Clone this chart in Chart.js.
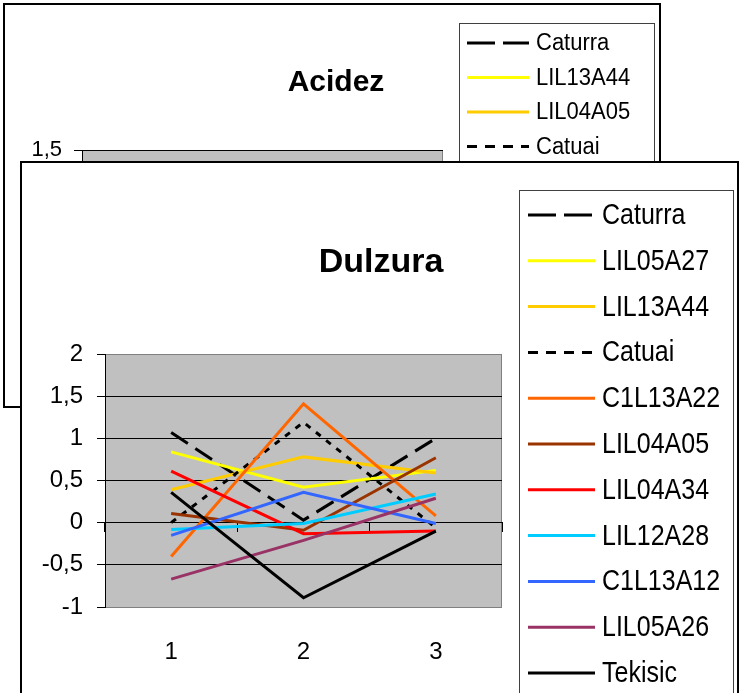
<!DOCTYPE html>
<html>
<head>
<meta charset="utf-8">
<script src="https://cdn.jsdelivr.net/npm/chart.js@4.4.1/dist/chart.umd.min.js"></script>
<style>
  body { margin: 0; background: #fff; }
  #page { position: relative; width: 746px; height: 693px; overflow: hidden; }
  .box { position: absolute; border: 2px solid #000; background: #fff; }
  #backBox { left: 3px; top: 3px; width: 654px; height: 401px; }
  #frontBox { left: 20px; top: 161px; width: 715px; height: 560px; }
  canvas { display: block; }
</style>
</head>
<body>
<div id="page">
  <div class="box" id="backBox"><canvas id="acidez" width="654" height="401"></canvas></div>
  <div class="box" id="frontBox"><canvas id="dulzura" width="715" height="530"></canvas></div>
</div>
<script>
// categories (x axis) shared by both charts
const categories = ['1', '2', '3'];

// Dulzura (front chart)
const dulzuraTicks = [-1, -0.5, 0, 0.5, 1, 1.5, 2];
const dulzuraNames = ['Caturra', 'LIL05A27', 'LIL13A44', 'Catuai', 'C1L13A22', 'LIL04A05',
  'LIL04A34', 'LIL12A28', 'C1L13A12', 'LIL05A26', 'Tekisic'];
const caturra  = [1.07, 0.03, 1.00];
const lil05a27 = [0.84, 0.42, 0.62];
const lil13a44 = [0.39, 0.78, 0.59];
const catuai   = [0.00, 1.19, -0.06];
const c1l13a22 = [-0.40, 1.41, 0.08];
const lil04a05 = [0.11, -0.09, 0.77];
const lil04a34 = [0.61, -0.13, -0.10];
const lil12a28 = [-0.08, -0.01, 0.34];
const c1l13a12 = [-0.15, 0.36, -0.01];
const lil05a26 = [-0.67, -0.21, 0.29];
const tekisic  = [0.36, -0.89, -0.10];
const dulzuraValues = [caturra, lil05a27, lil13a44, catuai, c1l13a22, lil04a05,
  lil04a34, lil12a28, c1l13a12, lil05a26, tekisic];

// Acidez (back chart) - only the top of it shows, its lines are hidden behind Dulzura
const acidezTicks = [-1.5, -1, -0.5, 0, 0.5, 1, 1.5];
const acidezNames = ['Caturra', 'LIL13A44', 'LIL04A05', 'Catuai'];
const acidezValues = [[], [], [], []];

const lineStyles = {
  'Caturra':  { color: '#000000', dash: [20, 9], legendDash: [28, 8] },
  'Catuai':   { color: '#000000', dash: [6, 7], legendDash: [10, 8] },
  'LIL05A27': { color: '#FFFF00' },
  'LIL13A44': { color: '#FFCC00' },
  'C1L13A22': { color: '#FF6600' },
  'LIL04A05': { color: '#993300' },
  'LIL04A34': { color: '#FF0000' },
  'LIL12A28': { color: '#00CCFF' },
  'C1L13A12': { color: '#3366FF' },
  'LIL05A26': { color: '#993366' },
  'Tekisic':  { color: '#000000' }
};
// back chart uses its own colour order
const acidezColors = { 'LIL13A44': '#FFFF00', 'LIL04A05': '#FFCC00' };

const SANS = '"Liberation Sans", Arial, sans-serif';

const commaLabel = v => String(v).replace('.', ',');

const plotBg = {
  id: 'plotBg',
  beforeDraw(chart) {
    const { ctx, chartArea: a } = chart;
    ctx.save();
    ctx.fillStyle = '#C0C0C0';
    ctx.fillRect(a.left, a.top, a.right - a.left, a.bottom - a.top);
    ctx.strokeStyle = '#808080';
    ctx.lineWidth = 1;
    ctx.strokeRect(a.left + 0.5, a.top + 0.5, a.right - a.left - 1, a.bottom - a.top);
    ctx.restore();
  }
};

const boxTitle = {
  id: 'boxTitle',
  afterDraw(chart, args, opts) {
    const { ctx } = chart;
    ctx.save();
    ctx.font = opts.font;
    ctx.fillStyle = '#000';
    ctx.textAlign = 'center';
    ctx.textBaseline = 'middle';
    ctx.fillText(opts.text, opts.x, opts.y);
    ctx.restore();
  }
};

// Excel-like legend: framed box, line sample, label (optionally stretched vertically)
const boxLegend = {
  id: 'boxLegend',
  afterDraw(chart, args, opts) {
    const { ctx } = chart;
    ctx.save();
    ctx.fillStyle = '#fff';
    ctx.fillRect(opts.left, opts.top, opts.width, opts.height);
    ctx.strokeStyle = '#404040';
    ctx.lineWidth = 1;
    ctx.strokeRect(opts.left + 0.5, opts.top + 0.5, opts.width, opts.height);
    chart.data.datasets.forEach((ds, i) => {
      const y = opts.firstRow + i * opts.rowGap;
      ctx.beginPath();
      ctx.setLineDash(ds.legendDash || []);
      ctx.lineWidth = ds.borderWidth;
      ctx.strokeStyle = ds.borderColor;
      ctx.moveTo(opts.lineStart, y);
      ctx.lineTo(opts.lineEnd, y);
      ctx.stroke();
      ctx.setLineDash([]);
      ctx.save();
      ctx.translate(opts.textX, y + 1);
      ctx.scale(1, opts.stretch || 1);
      ctx.font = opts.font;
      ctx.textAlign = 'left';
      ctx.textBaseline = 'middle';
      ctx.fillStyle = '#000';
      ctx.fillText(ds.label, 0, 0);
      ctx.restore();
    });
    ctx.restore();
  }
};

function makeDatasets(names, values, colorOverride) {
  return names.map((name, i) => {
    const st = lineStyles[name];
    return {
      label: name,
      data: values[i],
      borderColor: (colorOverride && colorOverride[name]) || st.color,
      borderWidth: 3,
      borderDash: st.dash || [],
      legendDash: st.legendDash || [],
      pointRadius: 0,
      tension: 0,
      fill: false,
      order: names.length - i
    };
  });
}

// ---- Acidez (behind) ----
new Chart(document.getElementById('acidez'), {
  type: 'line',
  data: { labels: categories, datasets: makeDatasets(acidezNames, acidezValues, acidezColors) },
  plugins: [plotBg, boxTitle, boxLegend],
  options: {
    responsive: false,
    animation: false,
    layout: { padding: { top: 145, right: 216, bottom: 40, left: 0 } },
    scales: {
      x: { display: false },
      y: {
        min: -1.5, max: 1.5,
        afterBuildTicks: s => { s.ticks = acidezTicks.map(v => ({ value: v })); },
        afterFit: s => { s.width = 77; },
        ticks: { callback: commaLabel, color: '#000', padding: 12, font: { family: SANS, size: 22 } },
        grid: { color: '#000', tickColor: '#000', tickLength: 8 },
        border: { color: '#000' }
      }
    },
    plugins: {
      legend: { display: false },
      tooltip: { enabled: false },
      boxTitle: { text: 'Acidez', x: 331, y: 78, font: 'bold 30px ' + SANS },
      boxLegend: { left: 454, top: 18, width: 195, height: 300, firstRow: 38, rowGap: 34.5,
        lineStart: 462, lineEnd: 524, textX: 531, font: '22px ' + SANS, stretch: 1.05 }
    }
  }
});

// ---- Dulzura (front) ----
new Chart(document.getElementById('dulzura'), {
  type: 'line',
  data: { labels: categories, datasets: makeDatasets(dulzuraNames, dulzuraValues) },
  plugins: [plotBg, boxTitle, boxLegend],
  options: {
    responsive: false,
    animation: false,
    layout: { padding: { top: 191, right: 235, bottom: 0, left: 0 } },
    scales: {
      x: {
        offset: true,
        afterFit: s => { s.height = 86; },
        grid: { display: false, drawTicks: false },
        border: { display: false },
        ticks: { color: '#000', padding: 31, font: { family: SANS, size: 24 } }
      },
      xAxisLine: {
        type: 'category',
        position: { y: 0 },
        offset: true,
        grid: { drawOnChartArea: false, offset: true, tickLength: 9, color: '#000' },
        border: { color: '#000' },
        ticks: { display: false }
      },
      y: {
        min: -1, max: 2,
        afterBuildTicks: s => { s.ticks = dulzuraTicks.map(v => ({ value: v })); },
        afterFit: s => { s.width = 83; },
        ticks: { callback: commaLabel, color: '#000', padding: 14, font: { family: SANS, size: 24 } },
        grid: {
          color: c => (c.tick && (c.tick.value === 2 || c.tick.value === -1)) ? '#808080' : '#000',
          tickColor: '#000', tickLength: 8
        },
        border: { color: '#000' }
      }
    },
    plugins: {
      legend: { display: false },
      tooltip: { enabled: false },
      boxTitle: { text: 'Dulzura', x: 359, y: 100, font: 'bold 34px ' + SANS },
      boxLegend: { left: 497, top: 27, width: 214, height: 600, firstRow: 52, rowGap: 45.8,
        lineStart: 506, lineEnd: 573, textX: 580, font: '25px ' + SANS, stretch: 1.15 }
    }
  }
});
</script>
</body>
</html>
